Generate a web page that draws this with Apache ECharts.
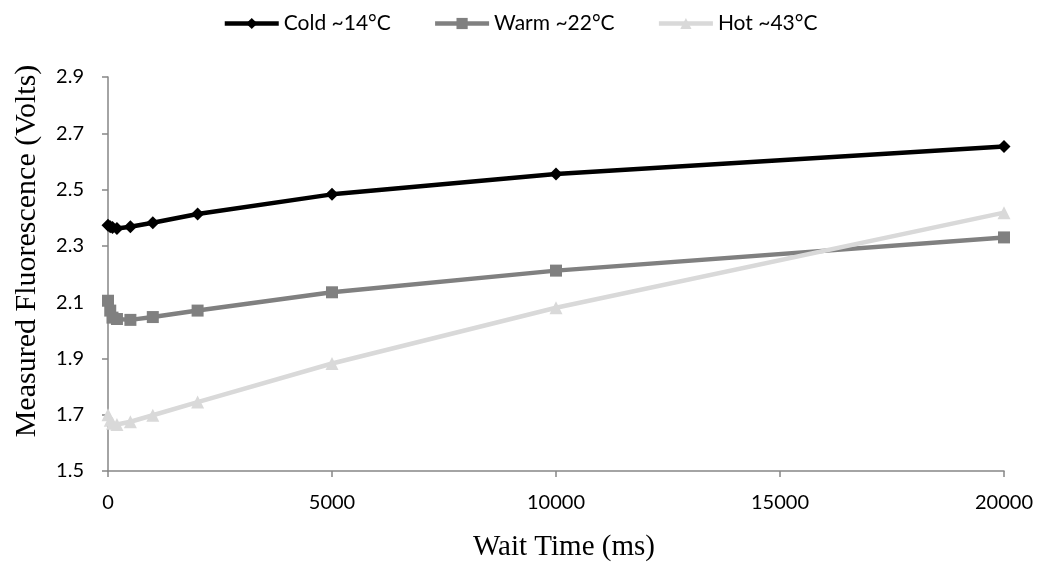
<!DOCTYPE html>
<html><head><meta charset="utf-8">
<script src="https://cdn.jsdelivr.net/npm/echarts@6/dist/echarts.min.js"></script>
<style>html,body{margin:0;padding:0;background:#fff}#c{width:1040px;height:567px}</style>
</head><body><div id="c"></div>
<script>
const waitTimes = [0, 50, 100, 200, 500, 1000, 2000, 5000, 10000, 20000];
const cold = [2.373, 2.368, 2.365, 2.362, 2.368, 2.382, 2.413, 2.483, 2.555, 2.653];
const warm = [2.105, 2.07, 2.045, 2.04, 2.037, 2.047, 2.07, 2.135, 2.212, 2.33];
const hot  = [1.70, 1.68, 1.67, 1.665, 1.675, 1.698, 1.745, 1.882, 2.08, 2.418];
const seriesNames = ['Cold ~14°C', 'Warm ~22°C', 'Hot ~43°C'];
const xTitle = 'Wait Time (ms)';
const yTitle = 'Measured Fluorescence (Volts)';

const pair = arr => waitTimes.map((t, i) => [t, arr[i]]);
const labelFont = 'Lato, "Open Sans", sans-serif';
const titleFont = '"Liberation Serif", "Times New Roman", serif';
const axisColor = '#868686';

const chart = echarts.init(document.getElementById('c'));
chart.setOption({
  animation: false,
  backgroundColor: '#fff',
  legend: {
    top: 8, left: 'center', itemWidth: 54, itemHeight: 14, itemGap: 42,
    lineStyle: { width: 4.5 },
    textStyle: { fontFamily: labelFont, fontSize: 21, color: '#000' },
    data: seriesNames
  },
  grid: { left: 108, right: 36, top: 77, bottom: 94 },
  xAxis: {
    type: 'value', min: 0, max: 20000, interval: 5000,
    name: xTitle, nameLocation: 'middle', nameGap: 62,
    nameTextStyle: { fontFamily: titleFont, fontSize: 29, color: '#000', padding: [0, 0, 0, 16] },
    axisLine: { show: true, lineStyle: { color: axisColor, width: 1.5 } },
    axisTick: { show: true, length: 6, lineStyle: { color: axisColor, width: 1.5 } },
    axisLabel: { fontFamily: labelFont, fontSize: 20, color: '#000', margin: 22,
      formatter: v => String(v) },
    splitLine: { show: false }
  },
  yAxis: {
    type: 'value', min: 1.5, max: 2.9, interval: 0.2,
    name: yTitle, nameLocation: 'middle', nameGap: 66,
    nameTextStyle: { fontFamily: titleFont, fontSize: 30, color: '#000', padding: [0, 0, 0, 46] },
    axisLine: { show: true, lineStyle: { color: axisColor, width: 1.5 } },
    axisTick: { show: true, length: 6, lineStyle: { color: axisColor, width: 1.5 } },
    axisLabel: { fontFamily: labelFont, fontSize: 20, color: '#000', margin: 24,
      formatter: v => v.toFixed(1) },
    splitLine: { show: false }
  },
  series: [
    { name: seriesNames[0], type: 'line', data: pair(cold), symbol: 'diamond', symbolSize: 13,
      lineStyle: { color: '#000', width: 4.5 }, itemStyle: { color: '#000' } },
    { name: seriesNames[1], type: 'line', data: pair(warm), symbol: 'rect', symbolSize: 12,
      lineStyle: { color: '#808080', width: 4.5 }, itemStyle: { color: '#808080' } },
    { name: seriesNames[2], type: 'line', data: pair(hot), symbol: 'triangle', symbolSize: 13,
      lineStyle: { color: '#d9d9d9', width: 4.5 }, itemStyle: { color: '#d9d9d9' } }
  ]
});
</script></body></html>
